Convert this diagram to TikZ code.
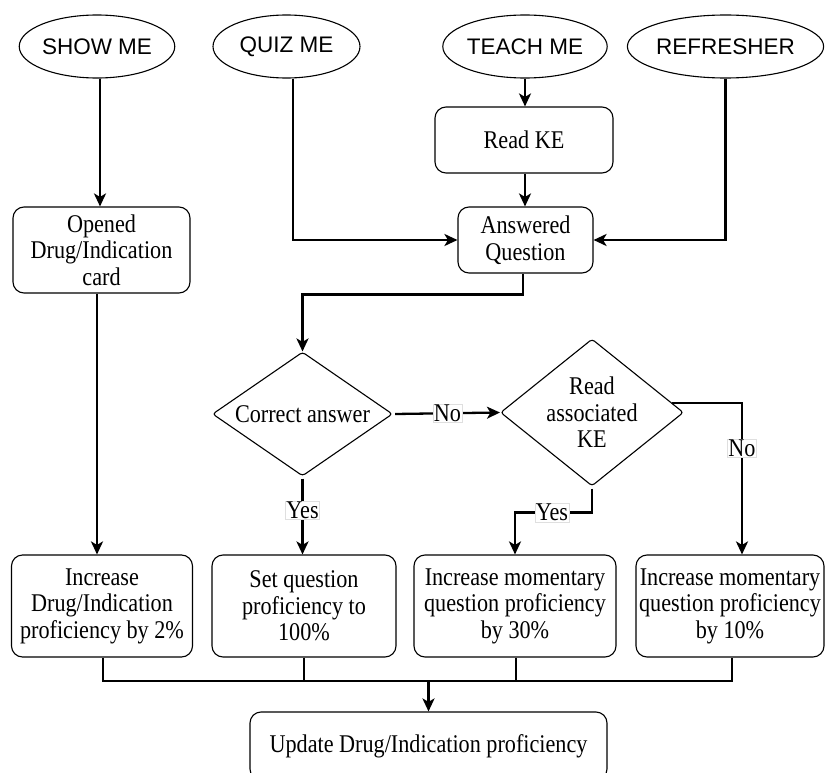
\documentclass[tikz,border=0pt]{standalone}
\usepackage{fontspec}
\setmainfont{Liberation Serif}[FakeStretch=0.87]
\newfontfamily\sansf{Liberation Sans}
\usetikzlibrary{shapes.geometric,arrows.meta,calc}

\tikzset{
  base/.style={draw=black, line width=1.1pt, align=center,
    font=\fontsize{25.5}{26.5}\selectfont, inner sep=0pt},
  term/.style={base, ellipse, minimum height=63pt,
    font=\sansf\fontsize{22.5}{26}\selectfont},
  proc/.style={base, rectangle, rounded corners=11pt},
  decide/.style={base, diamond, rounded corners=3pt},
  line/.style={draw=black, line width=2.3pt},
  arr/.style={line, -{Stealth[length=13pt,width=12pt,inset=3.5pt]}},
  lbl/.style={fill=white, draw=gray!25, line width=0.5pt, inner sep=0.8pt,
    font=\fontsize{25.5}{26.5}\selectfont}
}

\begin{document}
\begin{tikzpicture}[x=1pt,y=-1pt]
  \useasboundingbox[fill=white] (0,0) rectangle (825,773);

  % entry points
  \node[term, minimum width=147pt] (showme)    at (97,46.5)  {SHOW ME};
  \node[term, minimum width=147pt] (quizme)    at (286.5,46.5) {QUIZ ME};
  \node[term, minimum width=146pt] (teachme)   at (525,46.5) {TEACH ME};
  \node[term, minimum width=175pt] (refresher) at (725.5,46.5) {REFRESHER};

  % upper process steps
  \node[proc, minimum width=178pt, minimum height=66pt] (readke)   at (524,140) {Read KE};
  \node[proc, minimum width=135pt, minimum height=66pt] (answered) at (525.5,240) {Answered\\Question};
  \node[proc, minimum width=177pt, minimum height=86pt] (opened)   at (101.5,250) {Opened\\Drug/Indication\\card};

  % decisions
  \node[decide, aspect=1.45, minimum width=180pt, minimum height=124pt] (correct) at (302.5,414) {Correct answer};
  \node[decide, aspect=1.25, minimum width=183pt, minimum height=147pt] (readdia) at (592,412.5) {Read\\associated\\KE};

  % proficiency updates
  \node[proc, minimum width=181pt, minimum height=102pt] (box1) at (102,606) {Increase\\Drug/Indication\\proficiency by 2\%};
  \node[proc, minimum width=184pt, minimum height=102pt] (box2) at (304,606) {Set question\\proficiency to\\100\%};
  \node[proc, minimum width=202pt, minimum height=102pt] (box3) at (515,606) {Increase momentary\\question proficiency\\by 30\%};
  \node[proc, minimum width=188pt, minimum height=102pt] (box4) at (730,606) {Increase momentary\\question proficiency\\by 10\%};

  \node[proc, minimum width=357pt, minimum height=68pt] (final) at (428.5,746) {Update Drug/Indication proficiency};

  \coordinate (bus) at (0,681);

  % connectors
  \draw[arr] ([xshift=3pt]showme.south) -- ([xshift=3pt]showme.south |- opened.north);
  \draw[arr] ([xshift=6.5pt]quizme.south) |- (answered.west);
  \draw[arr] (teachme.south) -- (teachme.south |- readke.north);
  \draw[arr] (teachme.south |- readke.south) -- (teachme.south |- answered.north);
  \draw[arr] (refresher.south) |- (answered.east);
  \draw[arr] ([xshift=-2.5pt]answered.south) -- ++(0,21) -| (correct.north);

  \draw[arr] ([xshift=2pt]correct.east) -- node[lbl]{No} (readdia.west);
  \draw[arr] ([yshift=-2pt]correct.south) -- node[lbl, pos=0.42]{Yes} (correct.south |- box2.north);
  \draw[arr] ([yshift=-2pt]readdia.south) -- ++(0,24) -| node[lbl, pos=0.26]{Yes} (box3.north);
  \draw[arr] (readdia.7) -| node[lbl, pos=0.65]{No} ([xshift=12pt]box4.north);

  \draw[arr] ([xshift=-4.5pt]opened.south) -- ([xshift=-4.5pt]opened.south |- box1.north);

  % merge into the final update
  \draw[line] ([xshift=1pt]box1.south) -- ([xshift=1pt]box1.south |- bus)
    -| ([xshift=2pt]box4.south);
  \draw[line] (box2.south) -- (box2.south |- bus);
  \draw[line] ([xshift=1pt]box3.south) -- ([xshift=1pt]box3.south |- bus);
  \draw[arr] (final.north |- bus) -- (final.north);
\end{tikzpicture}
\end{document}
